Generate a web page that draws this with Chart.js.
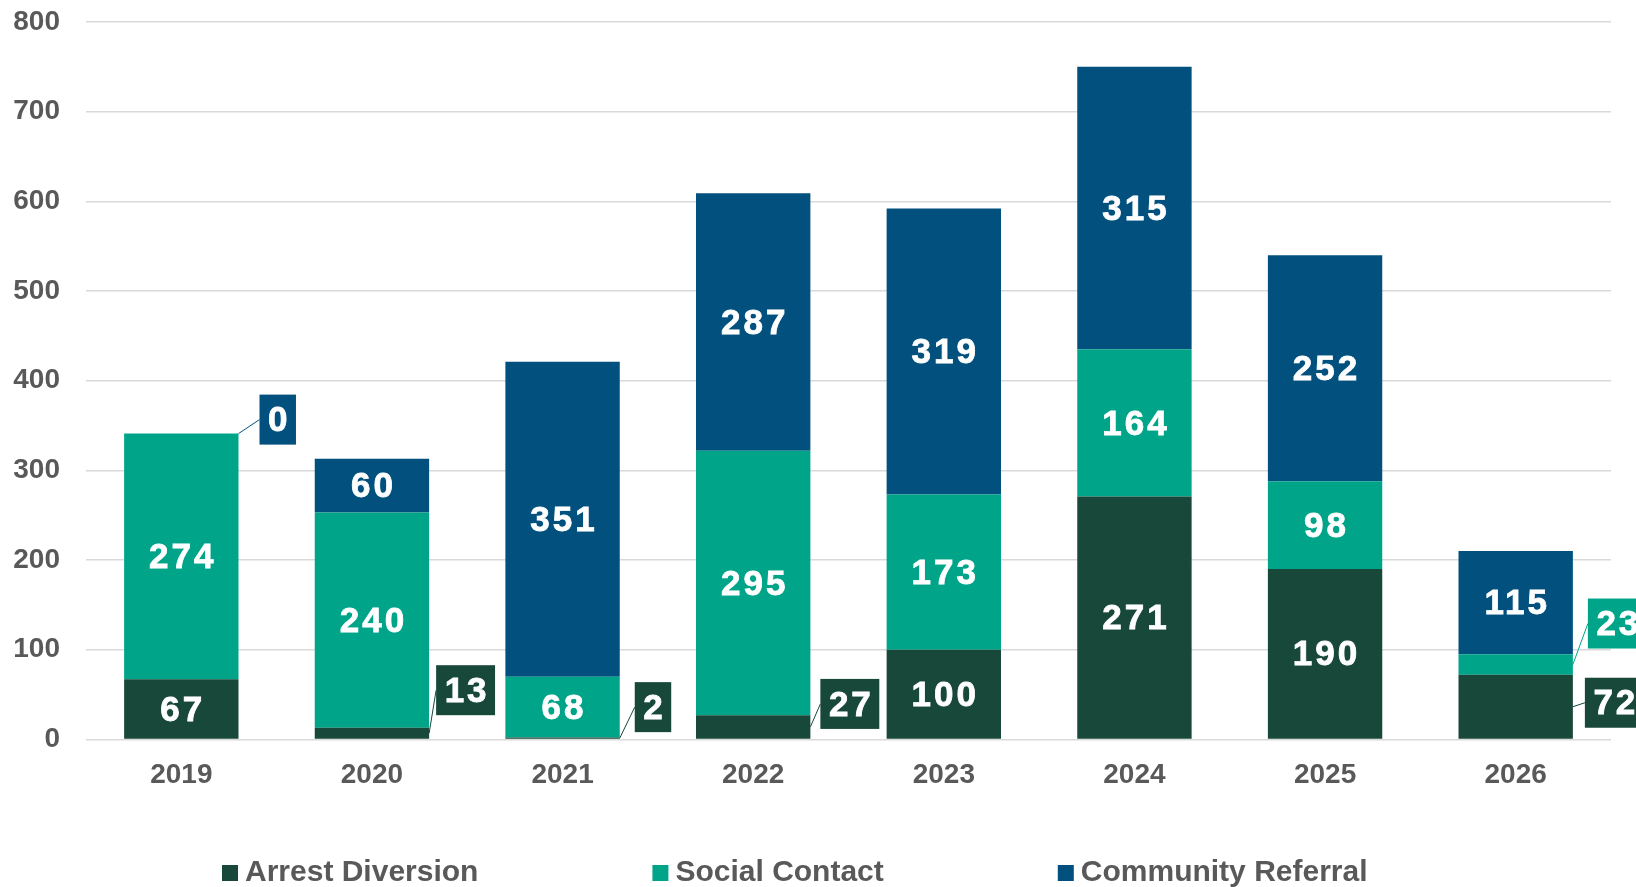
<!DOCTYPE html>
<html>
<head>
<meta charset="utf-8">
<script src="https://cdn.jsdelivr.net/npm/chart.js@4.4.1/dist/chart.umd.min.js"></script>
<style>
html, body { margin: 0; padding: 0; background: #fff; }
</style>
</head>
<body>
<canvas id="myChart" width="1636" height="887"></canvas>
<script>
const years = ['2019', '2020', '2021', '2022', '2023', '2024', '2025', '2026'];
const arrestDiversion = [67, 13, 2, 27, 100, 271, 190, 72];
const socialContact = [274, 240, 68, 295, 173, 164, 98, 23];
const communityReferral = [0, 60, 351, 287, 319, 315, 252, 115];
const yMax = 800;
const yStep = 100;

const colors = ['#17483A', '#00A589', '#02507E'];

// values shown in a box beside the bar: dataset, index, offset from bar edge
const callouts = [
    { ds: 2, i: 0, dx: 21, dy: -14 },
    { ds: 0, i: 1, dx: 7, dy: -43 },
    { ds: 0, i: 2, dx: 15, dy: -31 },
    { ds: 0, i: 3, dx: 10, dy: -23 },
    { ds: 1, i: 7, dx: 15, dy: -41 },
    { ds: 0, i: 7, dx: 12, dy: -4 },
];

const labelFont = 'bold 35px "Liberation Sans", Arial, sans-serif';

function boldText(ctx, txt, x, y) {
    ctx.fillText(txt, x, y);
    ctx.strokeText(txt, x, y);
}

const valueLabels = {
    id: 'valueLabels',
    afterDatasetsDraw(chart) {
        const ctx = chart.ctx;
        ctx.save();
        ctx.font = labelFont;
        ctx.letterSpacing = '3px';
        ctx.textAlign = 'center';
        ctx.textBaseline = 'middle';
        chart.data.datasets.forEach(function (ds, d) {
            const meta = chart.getDatasetMeta(d);
            meta.data.forEach(function (bar, i) {
                const val = ds.data[i];
                const c = callouts.find(function (o) { return o.ds === d && o.i === i; });
                const cy = (bar.y + bar.base) / 2;
                if (c) {
                    const txt = String(val);
                    const w = ctx.measureText(txt).width + 14;
                    const h = 50;
                    const right = bar.x + bar.width / 2;
                    const bx = right + c.dx;
                    const by = cy + c.dy;
                    ctx.strokeStyle = colors[d];
                    ctx.lineWidth = 1;
                    ctx.beginPath();
                    ctx.moveTo(right, cy);
                    ctx.lineTo(bx, by);
                    ctx.stroke();
                    ctx.fillStyle = colors[d];
                    ctx.fillRect(bx, by - h / 2, w, h);
                    ctx.fillStyle = '#ffffff';
                    ctx.strokeStyle = '#ffffff';
                    ctx.lineWidth = 0.8;
                    boldText(ctx, txt, bx + w / 2 + 1.5, by + 2);
                } else if (val > 0) {
                    ctx.fillStyle = '#ffffff';
                    ctx.strokeStyle = '#ffffff';
                    ctx.lineWidth = 0.8;
                    boldText(ctx, String(val), bar.x + 1.5, cy + 2);
                }
            });
        });
        ctx.restore();
    }
};

const bottomLegend = {
    id: 'bottomLegend',
    afterDraw(chart) {
        const ctx = chart.ctx;
        ctx.save();
        ctx.font = 'bold 30px "Liberation Sans", Arial, sans-serif';
        ctx.textBaseline = 'middle';
        ctx.textAlign = 'left';
        let x = 222;
        const y = 873;
        chart.data.datasets.forEach(function (ds) {
            ctx.fillStyle = ds.backgroundColor;
            ctx.fillRect(x, y - 8, 16, 16);
            ctx.fillStyle = '#595959';
            ctx.fillText(ds.label, x + 23, y);
            x += 23 + ctx.measureText(ds.label).width + 174;
        });
        ctx.restore();
    }
};

const data = {
    labels: years,
    datasets: [{
        label: 'Arrest Diversion',
        backgroundColor: colors[0],
        data: arrestDiversion,
    }, {
        label: 'Social Contact',
        backgroundColor: colors[1],
        data: socialContact,
    }, {
        label: 'Community Referral',
        backgroundColor: colors[2],
        data: communityReferral,
    }],
};

const config = {
    type: 'bar',
    data: data,
    options: {
        responsive: false,
        animation: false,
        devicePixelRatio: 1,
        categoryPercentage: 1,
        barPercentage: 0.6,
        layout: { padding: { top: 22, right: 25, bottom: 84, left: 0 } },
        plugins: {
            legend: { display: false },
            tooltip: { enabled: false },
        },
        scales: {
            x: {
                stacked: true,
                grid: { display: false },
                border: { display: false },
                ticks: {
                    color: '#595959',
                    padding: 11,
                    font: { family: '"Liberation Sans", Arial, sans-serif', size: 28, weight: 'bold' },
                },
            },
            y: {
                stacked: true,
                min: 0,
                max: yMax,
                afterFit: function (scale) {
                    scale.width = 86;
                    scale.paddingTop = 0;
                    scale.paddingBottom = 0;
                },
                grid: { color: '#D9D9D9', lineWidth: 1.5, drawTicks: false },
                border: { display: false },
                ticks: {
                    stepSize: yStep,
                    color: '#595959',
                    padding: 26,
                    font: { family: '"Liberation Sans", Arial, sans-serif', size: 28, weight: 'bold' },
                },
            },
        },
    },
    plugins: [valueLabels, bottomLegend],
};

const myChart = new Chart(document.getElementById('myChart'), config);
</script>
</body>
</html>
